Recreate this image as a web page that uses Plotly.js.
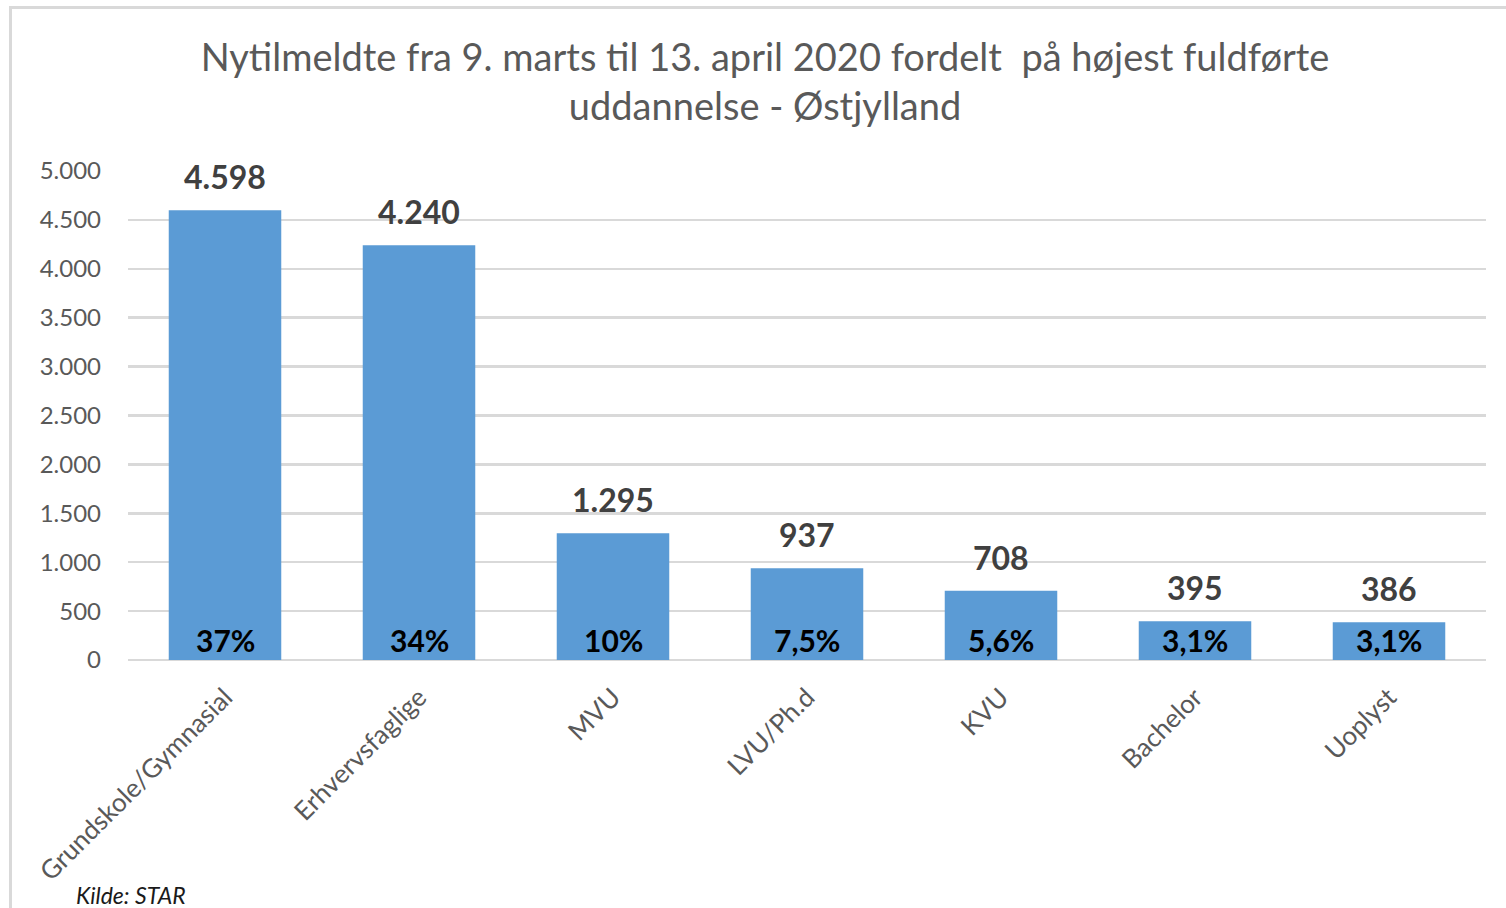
<!DOCTYPE html>
<html>
<head>
<meta charset="utf-8">
<script src="https://cdn.plot.ly/plotly-3.0.1.min.js"></script>
<style>
  body { margin: 0; background: #fff; overflow: hidden; }
  #fig { width: 1506px; height: 908px; }
  #frame { position: absolute; left: 9px; top: 6px; width: 1600px; height: 1000px;
           border-left: 3px solid #d9d9d9; border-top: 3px solid #d9d9d9;
           pointer-events: none; }
</style>
</head>
<body>
<div id="fig"></div>
<div id="frame"></div>
<script>
  // data
  const categories = ["Grundskole/Gymnasial", "Erhvervsfaglige", "MVU", "LVU/Ph.d",
                      "KVU", "Bachelor", "Uoplyst"];
  const counts = [4598, 4240, 1295, 937, 708, 395, 386];
  const shares = ["37%", "34%", "10%", "7,5%", "5,6%", "3,1%", "3,1%"];
  const yTicks = [0, 500, 1000, 1500, 2000, 2500, 3000, 3500, 4000, 4500, 5000];

  const font = "Lato, 'Open Sans', sans-serif";

  let bars = {
    type: 'bar', x: categories, y: counts,
    marker: {color: '#5b9bd5'},
    cliponaxis: false, hoverinfo: 'x+y'
  };

  // count above each bar
  let notes = categories.map((c, i) => ({
    x: c, y: counts[i], xref: 'x', yref: 'y',
    text: '<b>' + counts[i].toLocaleString('da-DK') + '</b>',
    showarrow: false, yanchor: 'bottom', yshift: 12,
    font: {family: font, size: 32, color: '#404040'}
  }));

  // share labels sit at the bottom of each bar
  categories.forEach((c, i) => notes.push({
    x: c, y: 0, xref: 'x', yref: 'y', text: '<b>' + shares[i] + '</b>',
    showarrow: false, yanchor: 'bottom', yshift: 0,
    font: {family: font, size: 30, color: '#000'}
  }));

  notes.push({
    xref: 'paper', yref: 'paper', x: -0.04, y: -0.48, xanchor: 'left', yanchor: 'middle',
    text: '<i>Kilde: STAR</i>', showarrow: false,
    font: {family: font, size: 23, color: '#1a1a1a'}
  });

  let layout = {
    width: 1506, height: 908,
    margin: {l: 128, r: 20, t: 171, b: 248},
    separators: ',.',
    paper_bgcolor: '#fff', plot_bgcolor: '#fff',
    showlegend: false,
    bargap: 0.42,
    title: {text: 'Nytilmeldte fra 9. marts til 13. april 2020 fordelt  på højest fuldførte<br>uddannelse - Østjylland',
            font: {family: font, size: 38, color: '#595959'},
            x: 0.508, xanchor: 'center', xref: 'container',
            y: 1 - 71 / 908, yanchor: 'top', yref: 'container'},
    xaxis: {tickangle: -45, showgrid: false, showline: false, ticks: '',
            ticklabelstandoff: 16,
            tickfont: {family: font, size: 26, color: '#595959'}},
    yaxis: {range: [0, 5000], tickvals: yTicks, tickformat: ',.0f',
            showgrid: true, gridcolor: '#d9d9d9', gridwidth: 2.5,
            zeroline: true, zerolinecolor: '#d9d9d9', zerolinewidth: 2.5,
            showline: false, ticks: '', ticklabelstandoff: 26,
            tickfont: {family: font, size: 24, color: '#595959'}},
    annotations: notes
  };

  Plotly.newPlot('fig', [bars], layout, {staticPlot: true});
</script>
</body>
</html>
